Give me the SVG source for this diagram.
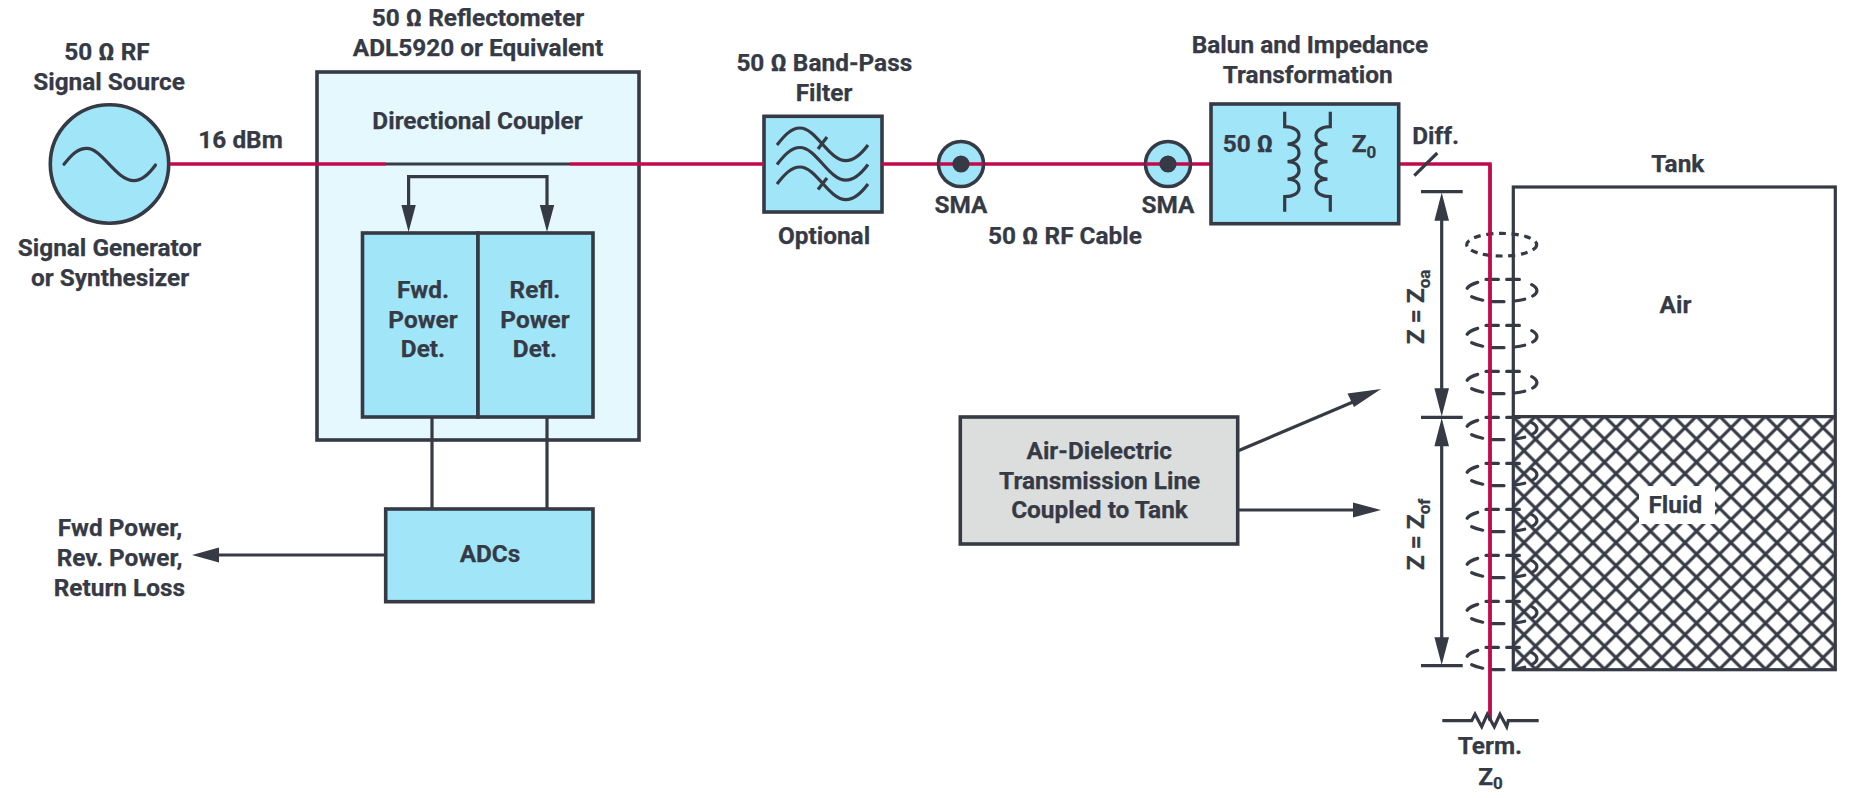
<svg xmlns="http://www.w3.org/2000/svg" width="1856" height="798" viewBox="0 0 1856 798">
<style>
text{font-family:"Roboto","Liberation Sans",sans-serif;font-weight:700;font-size:24.4px;fill:#363A45;stroke:#363A45;stroke-width:.25;text-anchor:middle}
.st{fill:none;stroke:#363A45;stroke-width:3.2}
.thin{fill:none;stroke:#363A45;stroke-width:3.2;stroke-linecap:round}
.blue{fill:#A1E5F9;stroke:#363A45;stroke-width:3.6}
.red{fill:none;stroke:#C00A4B;stroke-width:3.4}
.head{fill:#363A45;stroke:none}
.sub{font-size:17px}
</style>
<defs>
<pattern id="hatch" patternUnits="userSpaceOnUse" x="1558.5" y="416.2" width="23" height="23">
<path d="M-3 -3L26 26M26 -3L-3 26" fill="none" stroke="#363A45" stroke-width="3.1"/>
</pattern>
<g id="loop" class="thin">
<path d="M-24 -8.3A35 11.3 0 0 0 -34.5 -2.5M-30 6A35 11.3 0 0 0 -19 9.5M-10 11H2.3M13 10.3A35 11.3 0 0 0 23 8.5M31 5.3A35 11.3 0 0 0 30 -6M5 -11.3H17.7M-15.7 -11.3H-3.3"/>
</g>
</defs>

<g id="source">
<circle cx="109.5" cy="164" r="59.2" class="blue"/>
<path d="M64 164.3C72 154 78 148.3 87 148.3C102 148.3 116 180.7 134 180.7C142 180.7 149 174 155.5 165" class="thin"/>
<text x="107" y="60">50 Ω RF</text>
<text x="109" y="89.5">Signal Source</text>
<text x="109.5" y="256">Signal Generator</text>
<text x="110" y="285.7">or Synthesizer</text>
<text x="240.6" y="147.7">16 dBm</text>
</g>

<g id="reflectometer">
<rect x="317" y="72" width="322" height="368" fill="#E5F8FD" stroke="#363A45" stroke-width="3.6"/>
<text x="478" y="26">50 Ω Reflectometer</text>
<text x="478" y="56">ADL5920 or Equivalent</text>
<text x="477.5" y="129">Directional Coupler</text>
</g>

<g id="fwd-det">
<rect x="362.5" y="233" width="115.5" height="184" class="blue"/>
<text x="423" y="297.7">Fwd.</text>
<text x="423" y="327.7">Power</text>
<text x="423" y="357.3">Det.</text>
</g>
<g id="refl-det">
<rect x="478" y="233" width="115" height="184" class="blue"/>
<text x="535" y="297.7">Refl.</text>
<text x="535" y="327.7">Power</text>
<text x="535" y="357.3">Det.</text>
</g>
<g id="adcs">
<rect x="385.7" y="509" width="207.3" height="92.7" class="blue"/>
<text x="490" y="562">ADCs</text>
</g>
<g id="outputs">
<text x="120" y="535.7">Fwd Power,</text>
<text x="119.6" y="565.7">Rev. Power,</text>
<text x="119.4" y="595.7">Return Loss</text>
</g>

<g id="filter">
<rect x="764" y="116.3" width="118" height="95.7" class="blue"/>
<path d="M777 145C784 136 791 128 800 128C816 128 829 160.7 846 160.7C855 160.7 862 153 868 145" class="st"/>
<path d="M777 164.5C784 155.5 791 147.5 800 147.5C816 147.5 829 180.2 846 180.2C855 180.2 862 172.5 868 164.5" class="st"/>
<path d="M777 184C784 175 791 167 800 167C816 167 829 199.7 846 199.7C855 199.7 862 192 868 184" class="st"/>
<path d="M818 149L827 137M818 189.5L827 178" class="st"/>
<text x="824.3" y="71.3">50 Ω Band-Pass</text>
<text x="824" y="101">Filter</text>
<text x="824" y="244.3">Optional</text>
</g>

<g id="connectors">
<path d="M170 164H386M570 164H764M882 164H1211M1398.7 164H1490V720.5" class="red"/>
<path d="M386 164H570" class="st"/>
<path d="M432 417V509M547 417V509" class="st"/>
<path d="M408.6 206V176.7H547V206" class="st"/>
<path d="M401.4 205H415.8L408.6 232ZM539.8 205H554.2L547 232Z" class="head"/>
<path d="M386 555H215" class="st"/>
<path d="M219 547.6V562.4L192 555Z" class="head"/>
<path d="M1237.7 451L1360 399" class="st"/>
<path d="M1381 389L1354 407L1347.5 393.5Z" class="head"/>
<path d="M1237.7 510H1356" class="st"/>
<path d="M1353 502.6V517.4L1381 510Z" class="head"/>
<path d="M1414.3 175.7L1437.3 153" class="st"/>
</g>

<g id="sma-1">
<circle cx="961" cy="164" r="22.5" class="blue"/>
<path d="M939 164H983" class="red"/>
<circle cx="961" cy="164" r="8.6" fill="#363A45"/>
<text x="961" y="213">SMA</text>
</g>
<g id="sma-2">
<circle cx="1168" cy="164" r="22.5" class="blue"/>
<path d="M1146 164H1190" class="red"/>
<circle cx="1168" cy="164" r="8.6" fill="#363A45"/>
<text x="1168" y="213">SMA</text>
</g>
<text x="1065" y="244.3">50 Ω RF Cable</text>

<g id="balun">
<rect x="1211" y="104" width="187.7" height="119.7" class="blue"/>
<path d="M1284.7 111.7V126.7C1293 126.7 1299 130 1299 135.4C1299 141 1293 144.2 1287.5 144.2C1294 144.2 1299 147 1299 152.9C1299 158.5 1293 161.7 1287.5 161.7C1294 161.7 1299 164.5 1299 170.4C1299 176 1293 179.2 1287.5 179.2C1294 179.2 1299 182 1299 187.9C1299 193.5 1293 196.7 1284.7 196.7V211.7" class="st"/>
<path d="M1330.3 111.7V126.7C1322 126.7 1316 130 1316 135.4C1316 141 1322 144.2 1327.5 144.2C1321 144.2 1316 147 1316 152.9C1316 158.5 1322 161.7 1327.5 161.7C1321 161.7 1316 164.5 1316 170.4C1316 176 1322 179.2 1327.5 179.2C1321 179.2 1316 182 1316 187.9C1316 193.5 1322 196.7 1330.3 196.7V211.7" class="st"/>
<text x="1310" y="53.3">Balun and Impedance</text>
<text x="1307.7" y="83.3">Transformation</text>
<text x="1248" y="152.3">50 Ω</text>
<text x="1351.7" y="152.3" style="text-anchor:start">Z<tspan class="sub" dy="5.7">0</tspan></text>
<text x="1435.7" y="144.3">Diff.</text>
</g>

<g id="tank">
<rect x="1513.3" y="187" width="322" height="229.7" fill="#fff"/>
<rect x="1513.3" y="416.7" width="322" height="253" fill="url(#hatch)"/>
<rect x="1513.3" y="187" width="322" height="482.7" class="st"/>
<path d="M1513.3 416.7H1835.3" class="st"/>
<rect x="1639" y="486" width="76" height="38" fill="#fff"/>
<text x="1677.8" y="172">Tank</text>
<text x="1675.5" y="312.7">Air</text>
<text x="1675.3" y="513.3">Fluid</text>
</g>

<g id="transmission-line">
<ellipse cx="1501.7" cy="244.7" rx="35" ry="11.3" class="st" stroke-dasharray="7 5.6"/>
<use href="#loop" x="1501.7" y="290.7"/>
<use href="#loop" x="1501.7" y="336.7"/>
<use href="#loop" x="1501.7" y="382.7"/>
<use href="#loop" x="1501.7" y="428.7"/>
<use href="#loop" x="1501.7" y="474.7"/>
<use href="#loop" x="1501.7" y="520.7"/>
<use href="#loop" x="1501.7" y="566.7"/>
<use href="#loop" x="1501.7" y="612.7"/>
<use href="#loop" x="1501.7" y="658.7"/>
<path d="M1490 164V720.5" class="red"/>
</g>

<g id="dimensions">
<path d="M1421 191.7H1462.7M1421 417.3H1462.7M1421 665.7H1462.7" class="st"/>
<path d="M1441.7 215V395M1441.7 440V640" class="st"/>
<path d="M1434.4 220.7H1449L1441.7 192.5ZM1434.4 388.3H1449L1441.7 416.5ZM1434.4 446.3H1449L1441.7 418ZM1434.4 637.3H1449L1441.7 665Z" class="head"/>
<text transform="translate(1424.3 344) rotate(-90)" style="text-anchor:start">Z = Z<tspan class="sub" dy="5.7">oa</tspan></text>
<text transform="translate(1424.3 570) rotate(-90)" style="text-anchor:start">Z = Z<tspan class="sub" dy="5.7">of</tspan></text>
</g>

<g id="termination">
<path d="M1442.3 720.7H1471.7L1475 714.3L1481.7 726.7L1487.3 714.3L1494.3 726.7L1500 714.3L1506.7 726.7L1508.3 720.7H1538.7" class="st"/>
<text x="1490" y="754">Term.</text>
<text x="1478.3" y="784.7" style="text-anchor:start">Z<tspan class="sub" dy="4.6">0</tspan></text>
</g>

<g id="air-dielectric">
<rect x="960.3" y="417" width="277.4" height="127" fill="#DCDEDE" stroke="#363A45" stroke-width="3.6"/>
<text x="1099.3" y="458.7">Air-Dielectric</text>
<text x="1099.7" y="488.7">Transmission Line</text>
<text x="1099.5" y="518.3">Coupled to Tank</text>
</g>
</svg>
